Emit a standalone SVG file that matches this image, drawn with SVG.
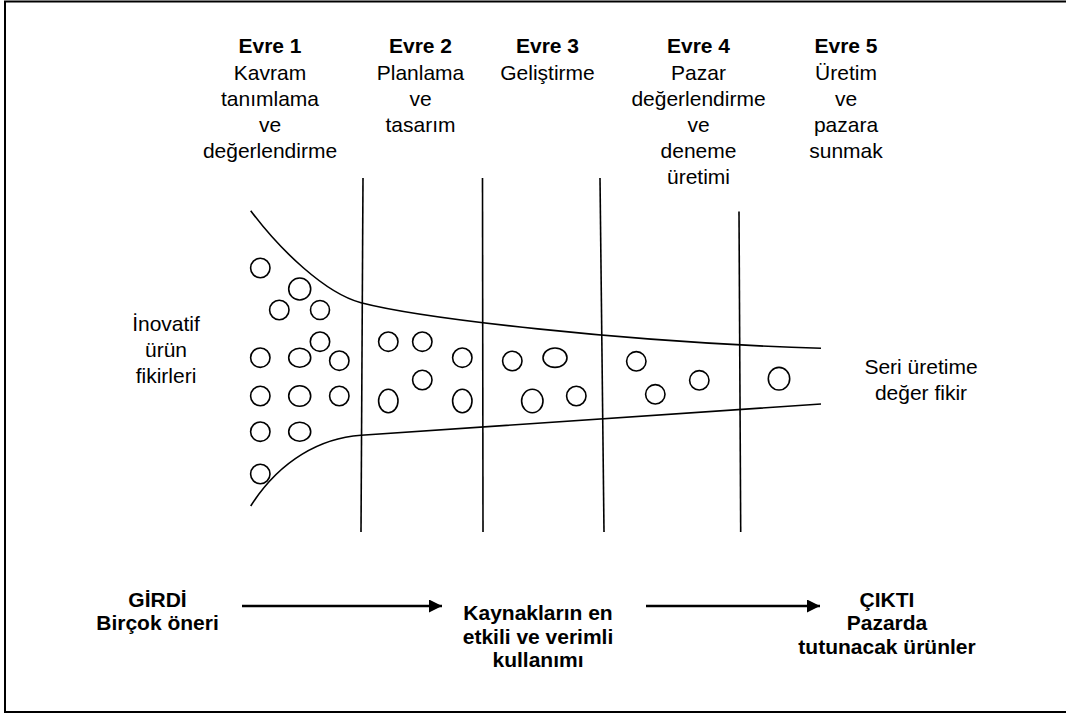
<svg xmlns="http://www.w3.org/2000/svg" width="1066" height="715" viewBox="0 0 1066 715">
<style>
.t{font-family:"Liberation Sans",Arial,sans-serif;font-size:21px;fill:#000;text-anchor:middle}
.b{font-weight:bold}
.ln{stroke:#000;stroke-width:1.6;fill:none}
.c{stroke:#000;stroke-width:1.6;fill:#fff}
.ar{stroke:#000;stroke-width:2.6;fill:none}
</style>
<defs>
<marker id="ah" viewBox="0 0 10 10" refX="10" refY="5" markerWidth="6" markerHeight="5" markerUnits="strokeWidth" orient="auto">
<path d="M0,0 L10,5 L0,10 Z" fill="#000"/>
</marker>
</defs>
<rect x="0" y="0" width="1066" height="715" fill="#fff"/>
<rect x="5" y="1.5" width="1064" height="710.5" fill="none" stroke="#000" stroke-width="2"/>

<g id="funnel">
<path class="ln" d="M250.7,210.7 C280,250 325.6,293.5 361,302.7 C420,318 620,342 821,348.3"/>
<path class="ln" d="M250.7,506 C280,460 321,438 361,435.3 L821,404"/>
</g>

<g id="phase-lines">
<line class="ln" x1="363" y1="178" x2="361" y2="532"/>
<line class="ln" x1="482.5" y1="178" x2="483" y2="532"/>
<line class="ln" x1="600" y1="178" x2="604" y2="532"/>
<line class="ln" x1="739" y1="211.5" x2="740.7" y2="532"/>
</g>

<g id="ideas">
<circle class="c" cx="260.3" cy="268" r="9.7"/>
<circle class="c" cx="299.7" cy="289" r="11"/>
<circle class="c" cx="279.3" cy="310" r="9.7"/>
<circle class="c" cx="320" cy="310" r="9.5"/>
<circle class="c" cx="320" cy="341.7" r="9.7"/>
<circle class="c" cx="260.3" cy="357.7" r="9.7"/>
<ellipse class="c" cx="299.7" cy="357.7" rx="11" ry="9.5"/>
<circle class="c" cx="339.3" cy="360.7" r="9.7"/>
<circle class="c" cx="260.3" cy="396" r="9.7"/>
<ellipse class="c" cx="299.7" cy="396" rx="11" ry="10.2"/>
<circle class="c" cx="339.3" cy="396" r="9.7"/>
<circle class="c" cx="260.3" cy="431.7" r="9.7"/>
<ellipse class="c" cx="299.7" cy="431.7" rx="11" ry="9.5"/>
<circle class="c" cx="260.3" cy="474" r="9.7" style="fill:none"/>
<circle class="c" cx="388.3" cy="341.7" r="9.7"/>
<circle class="c" cx="422.3" cy="341.7" r="9.7"/>
<circle class="c" cx="462.3" cy="357.7" r="9.7"/>
<circle class="c" cx="422.3" cy="380" r="9.7"/>
<ellipse class="c" cx="388.3" cy="401" rx="9.7" ry="11.7"/>
<ellipse class="c" cx="462.3" cy="401" rx="9.7" ry="11.7"/>
<circle class="c" cx="512.3" cy="361" r="9.7"/>
<ellipse class="c" cx="555" cy="357.7" rx="12" ry="9.7"/>
<ellipse class="c" cx="532.3" cy="401" rx="10.7" ry="11.7"/>
<circle class="c" cx="576.3" cy="396" r="9.7"/>
<circle class="c" cx="636.3" cy="361.3" r="9.7"/>
<circle class="c" cx="655.3" cy="394.3" r="9.7"/>
<circle class="c" cx="699.3" cy="380.3" r="9.7"/>
<ellipse class="c" cx="779" cy="378.7" rx="10.7" ry="11.3"/>
</g>

<g id="evre1">
<text class="t b" x="270" y="53">Evre 1</text>
<text class="t" x="270" y="80">Kavram</text>
<text class="t" x="270" y="106">tanımlama</text>
<text class="t" x="270" y="132">ve</text>
<text class="t" x="270" y="158">değerlendirme</text>
</g>
<g id="evre2">
<text class="t b" x="420.5" y="53">Evre 2</text>
<text class="t" x="420.5" y="80">Planlama</text>
<text class="t" x="420.5" y="106">ve</text>
<text class="t" x="420.5" y="132">tasarım</text>
</g>
<g id="evre3">
<text class="t b" x="547.5" y="53">Evre 3</text>
<text class="t" x="547.5" y="80">Geliştirme</text>
</g>
<g id="evre4">
<text class="t b" x="698.5" y="53">Evre 4</text>
<text class="t" x="698.5" y="80">Pazar</text>
<text class="t" x="698.5" y="106">değerlendirme</text>
<text class="t" x="698.5" y="132">ve</text>
<text class="t" x="698.5" y="158">deneme</text>
<text class="t" x="698.5" y="184">üretimi</text>
</g>
<g id="evre5">
<text class="t b" x="846" y="53">Evre 5</text>
<text class="t" x="846" y="80">Üretim</text>
<text class="t" x="846" y="106">ve</text>
<text class="t" x="846" y="132">pazara</text>
<text class="t" x="846" y="158">sunmak</text>
</g>

<g id="input-ideas">
<text class="t" x="166" y="331">İnovatif</text>
<text class="t" x="166" y="357">ürün</text>
<text class="t" x="166" y="383">fikirleri</text>
</g>
<g id="output-ideas">
<text class="t" x="921" y="374">Seri üretime</text>
<text class="t" x="921" y="400">değer fikir</text>
</g>

<g id="girdi">
<text class="t b" x="157.5" y="607">GİRDİ</text>
<text class="t b" x="157.5" y="630">Birçok öneri</text>
</g>
<g id="kaynaklar">
<text class="t b" x="538" y="620">Kaynakların en</text>
<text class="t b" x="538" y="643.5">etkili ve verimli</text>
<text class="t b" x="538" y="667">kullanımı</text>
</g>
<g id="cikti">
<text class="t b" x="887" y="607">ÇIKTI</text>
<text class="t b" x="887" y="630">Pazarda</text>
<text class="t b" x="887" y="654">tutunacak ürünler</text>
</g>

<g id="connectors">
<line class="ar" x1="242" y1="606" x2="442" y2="606" marker-end="url(#ah)"/>
<line class="ar" x1="646" y1="606" x2="820" y2="606" marker-end="url(#ah)"/>
</g>
</svg>
